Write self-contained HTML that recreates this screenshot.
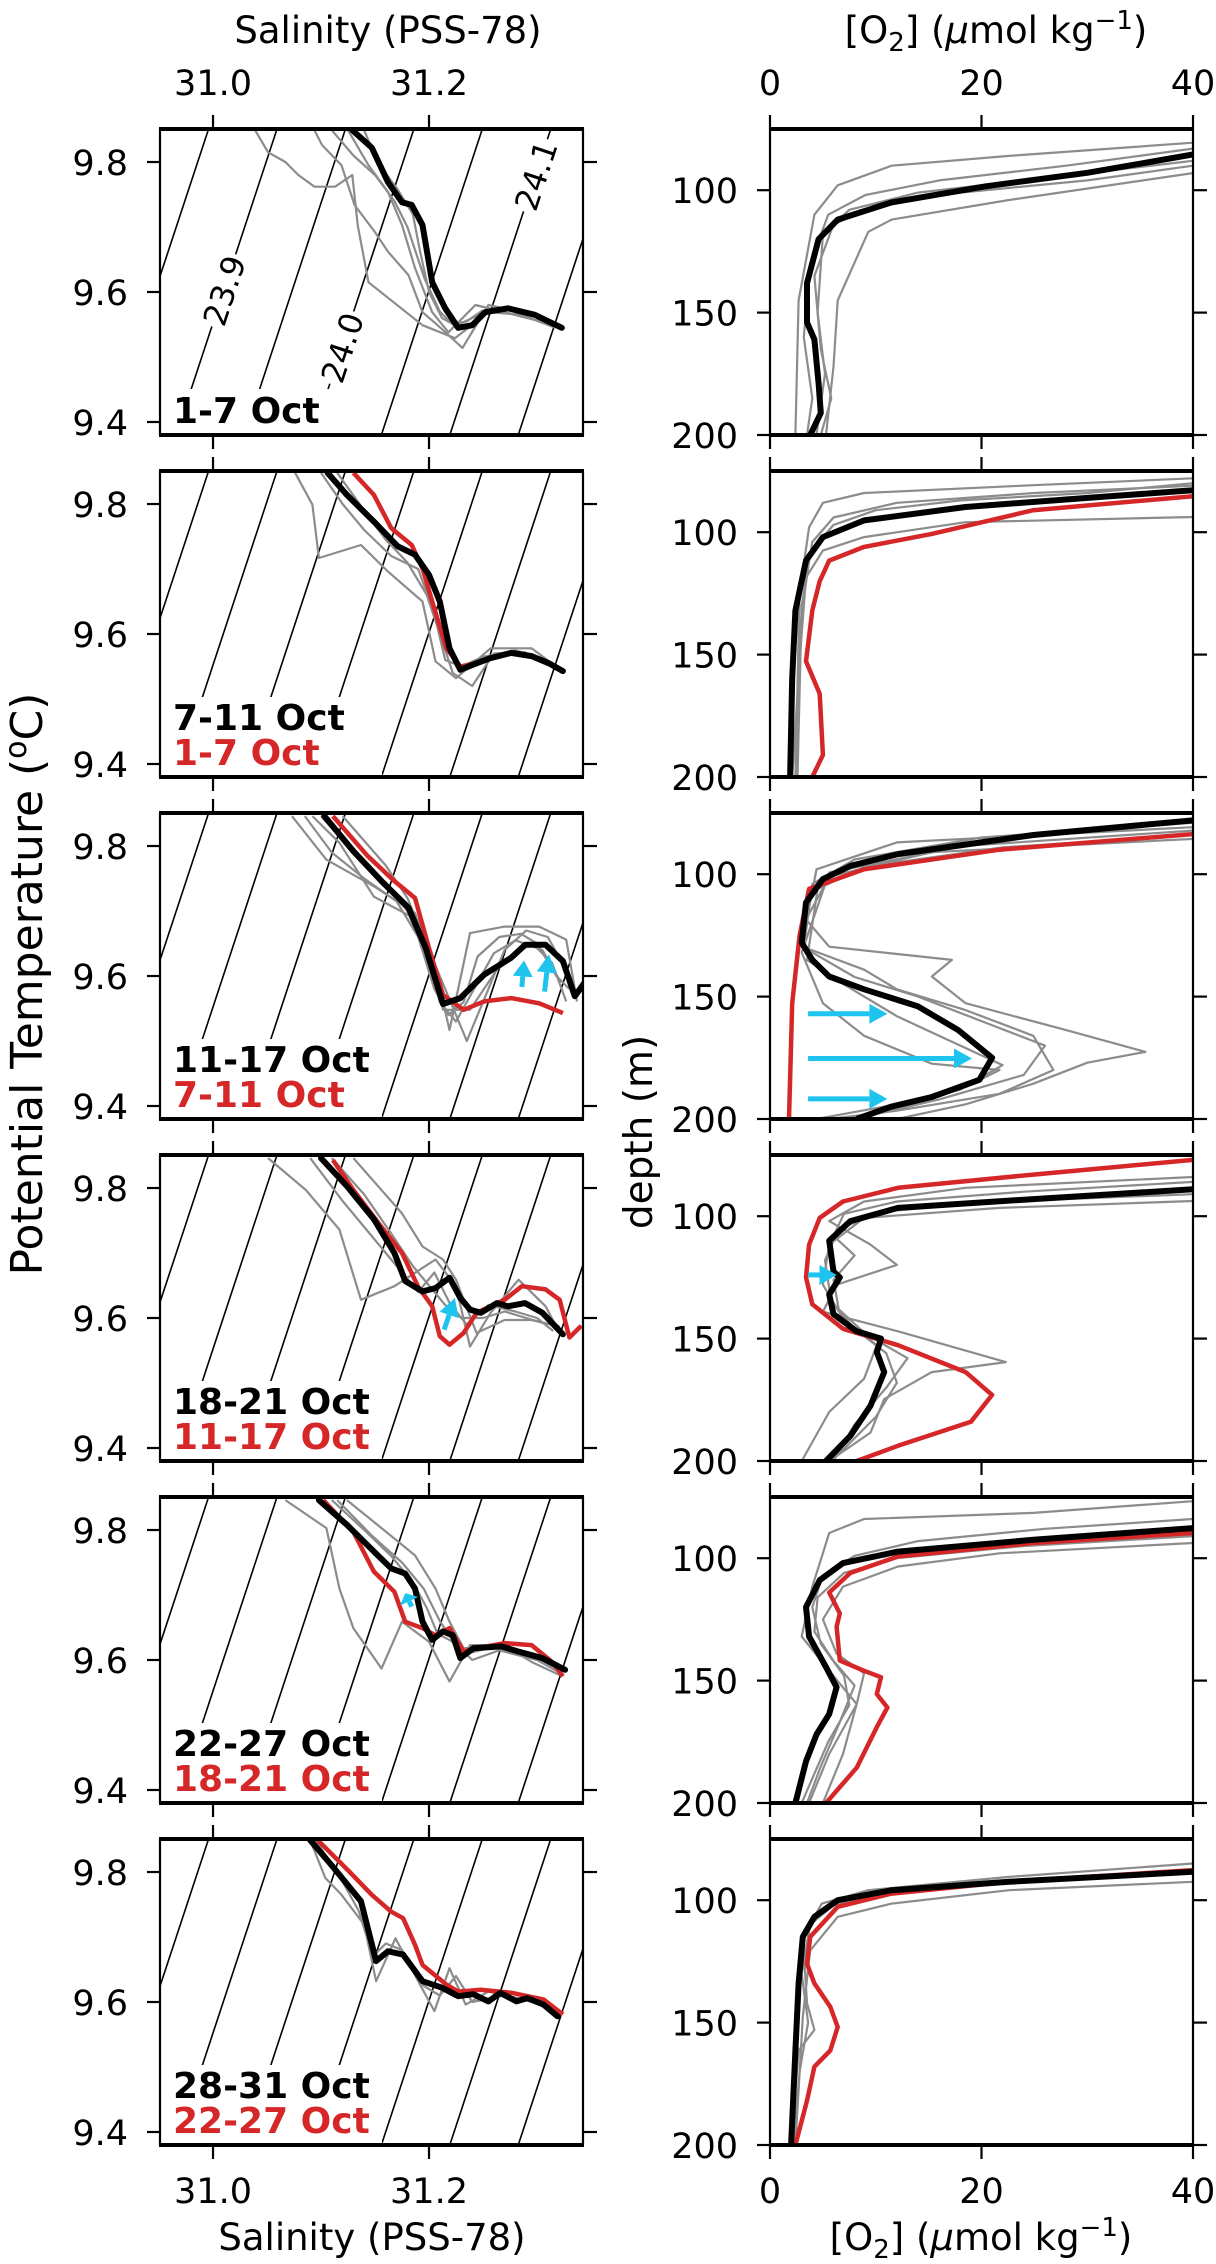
<!DOCTYPE html>
<html><head><meta charset="utf-8">
<style>
html,body{margin:0;padding:0;background:#fff;}
svg{display:block;font-family:"DejaVu Sans","Liberation Sans",sans-serif;}
</style></head>
<body>
<svg id="fig" width="1216" height="2264" viewBox="0 0 1216 2264" xmlns="http://www.w3.org/2000/svg">
<text x="388" y="43" font-size="37" text-anchor="middle">Salinity (PSS-78)</text>
<text x="996" y="43" font-size="37" text-anchor="middle">[O<tspan font-size="26" dy="8">2</tspan><tspan dy="-8">] (</tspan><tspan font-style="italic">μ</tspan>mol kg<tspan font-size="26" dy="-14">−1</tspan><tspan dy="14">)</tspan></text>
<text x="372" y="2250" font-size="37" text-anchor="middle">Salinity (PSS-78)</text>
<text x="981" y="2250" font-size="37" text-anchor="middle">[O<tspan font-size="26" dy="8">2</tspan><tspan dy="-8">] (</tspan><tspan font-style="italic">μ</tspan>mol kg<tspan font-size="26" dy="-14">−1</tspan><tspan dy="14">)</tspan></text>
<text transform="translate(42,984) rotate(-90)" font-size="44" text-anchor="middle">Potential Temperature (<tspan font-size="30" dy="-16">o</tspan><tspan dy="16">C)</tspan></text>
<text transform="translate(652,1132) rotate(-90)" font-size="39" text-anchor="middle">depth (m)</text>
<g id="plots"></g>
</svg>
<script>
// ---------------- DATA ----------------
const panelLabels = ["1-7 Oct","7-11 Oct","11-17 Oct","18-21 Oct","22-27 Oct","28-31 Oct"];
const prevLabels = [null,"1-7 Oct","7-11 Oct","11-17 Oct","18-21 Oct","22-27 Oct"];
const salTicks = [31.0, 31.2];
const salTickLabels = ["31.0","31.2"];
const tempTicks = [9.8, 9.6, 9.4];
const tempTickLabels = ["9.8","9.6","9.4"];
const o2Ticks = [0, 20, 40];
const o2TickLabels = ["0","20","40"];
const depthTicks = [100, 150, 200];
const depthTickLabels = ["100","150","200"];
const sigmaLevels = [23.7,23.75,23.8,23.85,23.9,23.95,24.0,24.05,24.1,24.15,24.2,24.25,24.3];
const sigmaLabelLevels = [23.9, 24.0, 24.1];
const sigmaLabelTemps = [9.6025, 9.5145, 9.7795];

// TS black (mean) per panel
const ts_black_1 = [[31.129,9.849],[31.147,9.822],[31.162,9.769],[31.175,9.738],[31.184,9.734],[31.194,9.703],[31.203,9.615],[31.215,9.575],[31.227,9.545],[31.24,9.549],[31.252,9.569],[31.273,9.575],[31.298,9.565],[31.323,9.545]];
const ts_black_2 = [[31.106,9.848],[31.124,9.814],[31.149,9.773],[31.171,9.735],[31.187,9.722],[31.2,9.691],[31.21,9.65],[31.219,9.578],[31.229,9.545],[31.244,9.555],[31.257,9.563],[31.276,9.571],[31.295,9.566],[31.311,9.555],[31.324,9.543]];
const ts_black_3 = [[31.103,9.846],[31.13,9.792],[31.156,9.746],[31.181,9.705],[31.197,9.643],[31.213,9.557],[31.229,9.566],[31.251,9.602],[31.276,9.628],[31.289,9.648],[31.308,9.648],[31.324,9.623],[31.335,9.569],[31.345,9.592]];
const ts_black_4 = [[31.1,9.846],[31.124,9.803],[31.149,9.752],[31.168,9.7],[31.178,9.657],[31.194,9.641],[31.206,9.646],[31.219,9.662],[31.229,9.631],[31.238,9.613],[31.248,9.608],[31.263,9.623],[31.273,9.618],[31.289,9.623],[31.305,9.608],[31.324,9.575]];
const ts_black_5 = [[31.098,9.846],[31.124,9.808],[31.149,9.767],[31.165,9.741],[31.178,9.733],[31.187,9.71],[31.194,9.659],[31.203,9.631],[31.213,9.644],[31.222,9.638],[31.229,9.603],[31.241,9.618],[31.267,9.621],[31.283,9.613],[31.305,9.603],[31.326,9.585]];
const ts_black_6 = [[31.09,9.849],[31.112,9.806],[31.137,9.755],[31.151,9.663],[31.162,9.678],[31.176,9.673],[31.194,9.632],[31.212,9.622],[31.227,9.609],[31.241,9.612],[31.255,9.601],[31.266,9.614],[31.281,9.601],[31.291,9.606],[31.306,9.596],[31.319,9.578]];
// TS red (previous period)
const ts_red_2 = [[31.13,9.848],[31.149,9.814],[31.165,9.763],[31.184,9.737],[31.194,9.701],[31.203,9.65],[31.216,9.578],[31.229,9.55],[31.244,9.555],[31.257,9.563],[31.276,9.571],[31.295,9.566],[31.311,9.555],[31.324,9.543]];
const ts_red_3 = [[31.111,9.846],[31.143,9.785],[31.168,9.746],[31.187,9.72],[31.2,9.643],[31.213,9.571],[31.232,9.548],[31.251,9.561],[31.276,9.566],[31.302,9.558],[31.324,9.543]];
const ts_red_4 = [[31.111,9.843],[31.13,9.797],[31.156,9.74],[31.175,9.7],[31.19,9.648],[31.203,9.618],[31.21,9.572],[31.219,9.559],[31.232,9.577],[31.244,9.608],[31.27,9.628],[31.286,9.649],[31.308,9.644],[31.321,9.628],[31.33,9.57],[31.341,9.588]];
const ts_red_5 = [[31.102,9.846],[31.13,9.797],[31.149,9.736],[31.168,9.705],[31.178,9.659],[31.194,9.649],[31.206,9.638],[31.219,9.649],[31.232,9.613],[31.244,9.618],[31.27,9.626],[31.295,9.623],[31.314,9.597],[31.324,9.575]];
const ts_red_6 = [[31.097,9.849],[31.126,9.801],[31.147,9.765],[31.165,9.739],[31.176,9.729],[31.187,9.688],[31.194,9.657],[31.216,9.627],[31.227,9.616],[31.248,9.619],[31.277,9.614],[31.306,9.604],[31.324,9.581]];
// TS gray (individual profiles)
const ts_gray_1a = [[31.039,9.849],[31.051,9.815],[31.067,9.8],[31.079,9.78],[31.094,9.762],[31.113,9.762],[31.129,9.78],[31.134,9.703],[31.144,9.615],[31.194,9.549],[31.224,9.529],[31.255,9.569],[31.286,9.565],[31.317,9.545]];
const ts_gray_1b = [[31.125,9.849],[31.144,9.795],[31.162,9.754],[31.175,9.703],[31.187,9.637],[31.203,9.569],[31.218,9.538],[31.243,9.58],[31.27,9.569],[31.305,9.554]];
const ts_gray_1c = [[31.094,9.849],[31.101,9.826],[31.119,9.795],[31.131,9.734],[31.15,9.692],[31.162,9.662],[31.181,9.626],[31.194,9.569],[31.208,9.549],[31.231,9.514],[31.255,9.58],[31.286,9.569]];
const ts_gray_1d = [[31.14,9.849],[31.152,9.8],[31.17,9.76],[31.185,9.72],[31.192,9.66],[31.2,9.6],[31.212,9.56],[31.225,9.548],[31.24,9.56],[31.26,9.575],[31.29,9.57],[31.31,9.55]];
const ts_gray_1e = [[31.11,9.849],[31.13,9.81],[31.15,9.78],[31.168,9.74],[31.18,9.7],[31.196,9.62],[31.21,9.57],[31.222,9.55],[31.235,9.555],[31.25,9.572]];
const ts_gray_2a = [[31.076,9.848],[31.092,9.799],[31.098,9.717],[31.137,9.737],[31.162,9.696],[31.194,9.65],[31.206,9.558],[31.225,9.532],[31.257,9.578],[31.295,9.578],[31.32,9.547]];
const ts_gray_2b = [[31.115,9.848],[31.14,9.79],[31.16,9.745],[31.18,9.71],[31.198,9.66],[31.212,9.59],[31.222,9.54],[31.24,9.52],[31.26,9.57],[31.29,9.572]];
const ts_gray_2c = [[31.1,9.848],[31.12,9.8],[31.14,9.76],[31.165,9.72],[31.19,9.7],[31.205,9.63],[31.215,9.56],[31.23,9.55],[31.25,9.565],[31.28,9.575],[31.31,9.56]];
const ts_gray_3a = [[31.073,9.846],[31.105,9.779],[31.149,9.738],[31.187,9.697],[31.206,9.61],[31.219,9.517],[31.238,9.666],[31.27,9.676],[31.302,9.676],[31.327,9.656],[31.337,9.561]];
const ts_gray_3b = [[31.092,9.846],[31.117,9.805],[31.149,9.722],[31.194,9.682],[31.213,9.548],[31.238,9.548],[31.263,9.61],[31.295,9.651],[31.314,9.62],[31.327,9.561]];
const ts_gray_3c = [[31.12,9.846],[31.16,9.77],[31.18,9.72],[31.205,9.62],[31.22,9.56],[31.235,9.5],[31.25,9.56],[31.27,9.64],[31.29,9.67],[31.31,9.66],[31.33,9.6]];
const ts_gray_3d = [[31.085,9.846],[31.11,9.79],[31.14,9.75],[31.17,9.715],[31.19,9.66],[31.205,9.58],[31.218,9.54],[31.232,9.56],[31.245,9.63],[31.265,9.66],[31.285,9.665],[31.3,9.65],[31.318,9.6],[31.33,9.58]];
const ts_gray_3e = [[31.1,9.846],[31.125,9.8],[31.155,9.75],[31.18,9.7],[31.2,9.62],[31.21,9.56],[31.225,9.53],[31.245,9.59],[31.26,9.635],[31.28,9.655],[31.305,9.64],[31.322,9.59]];
const ts_gray_4a = [[31.051,9.846],[31.086,9.797],[31.117,9.736],[31.137,9.628],[31.168,9.649],[31.206,9.69],[31.225,9.649],[31.238,9.556],[31.257,9.608],[31.283,9.659],[31.308,9.618],[31.321,9.577]];
const ts_gray_4b = [[31.13,9.846],[31.175,9.761],[31.194,9.71],[31.213,9.69],[31.225,9.659],[31.244,9.577],[31.27,9.597],[31.295,9.597],[31.321,9.587]];
const ts_gray_4c = [[31.11,9.846],[31.14,9.79],[31.165,9.73],[31.185,9.68],[31.2,9.65],[31.215,9.62],[31.23,9.6],[31.25,9.6],[31.27,9.61],[31.29,9.6],[31.31,9.59]];
const ts_gray_4d = [[31.09,9.846],[31.12,9.78],[31.15,9.72],[31.17,9.68],[31.19,9.64],[31.205,9.67],[31.22,9.62],[31.235,9.59],[31.255,9.62],[31.28,9.61],[31.3,9.6],[31.315,9.58]];
const ts_gray_5a = [[31.067,9.846],[31.105,9.803],[31.117,9.71],[31.13,9.649],[31.156,9.587],[31.175,9.659],[31.2,9.628],[31.219,9.567],[31.238,9.623],[31.27,9.623],[31.295,9.597],[31.321,9.577]];
const ts_gray_5b = [[31.124,9.846],[31.156,9.803],[31.187,9.761],[31.206,9.71],[31.219,9.659],[31.232,9.618],[31.257,9.623],[31.289,9.608],[31.321,9.587]];
const ts_gray_5c = [[31.11,9.846],[31.14,9.8],[31.165,9.76],[31.185,9.72],[31.198,9.68],[31.208,9.64],[31.22,9.63],[31.235,9.61],[31.26,9.62],[31.29,9.61],[31.315,9.59]];
const ts_gray_5d = [[31.115,9.846],[31.148,9.79],[31.175,9.75],[31.195,9.71],[31.21,9.66],[31.222,9.63],[31.24,9.6],[31.265,9.615],[31.3,9.6],[31.322,9.58]];
const ts_gray_6a = [[31.09,9.849],[31.104,9.791],[31.119,9.765],[31.14,9.719],[31.151,9.632],[31.169,9.698],[31.19,9.632],[31.205,9.586],[31.219,9.652],[31.234,9.596],[31.255,9.616],[31.306,9.596],[31.319,9.575]];
const ts_gray_6b = [[31.095,9.849],[31.115,9.8],[31.135,9.74],[31.148,9.67],[31.16,9.69],[31.175,9.68],[31.195,9.625],[31.21,9.61],[31.225,9.64],[31.24,9.6],[31.27,9.61],[31.3,9.6],[31.318,9.58]];

// O2 black (mean) per panel: [O2, depth]
const o2_black_1 = [[40,85.4],[30,92.9],[20.4,98.4],[11.5,105],[6.4,112],[4.6,120],[3.5,138],[3.5,154],[4.2,161],[4.6,179],[4.8,191],[3.8,200]];
const o2_black_2 = [[40,82.9],[31.3,85.6],[18.5,89.7],[8.9,95.2],[5,102],[3.4,111.6],[2.4,132],[2.1,159.6],[1.9,200]];
const o2_black_3 = [[40,78],[24.9,84],[12.1,91.8],[7.6,96.6],[5,102],[3.4,111.6],[3,128],[4,135],[5.6,141.8],[8.9,147],[14,154],[17.8,163.7],[21,175],[19.8,184],[15.3,191],[11.4,195],[8.2,200]];
const o2_black_4 = [[40,89],[24.9,93],[12.1,96.6],[7.6,102],[5.6,110],[6,122.6],[6.6,125],[5.6,132],[6,140],[8.2,147],[10.5,150],[10.1,155.5],[10.8,163.7],[9.5,177.4],[7.6,189.7],[5.3,200]];
const o2_black_5 = [[40,87.7],[24.9,92.5],[12.1,97.3],[6.9,102],[4.7,109],[3.4,120],[3.7,132],[5.3,144.5],[6.3,152.7],[5.6,163.7],[4.4,172],[3.4,183],[2.4,200]];
const o2_black_6 = [[40,88.4],[22.6,92.5],[11.5,95.9],[6.4,100],[4.2,106.8],[3.1,115],[2.7,134],[2.4,161.4],[2,200]];
// O2 red
const o2_red_2 = [[40,85.3],[24.9,91],[15.3,100.7],[8.9,106],[5.6,111.6],[4.7,120],[4,132],[3.4,152.7],[4.7,166],[5,191],[4,200]];
const o2_red_3 = [[40,83.6],[21.7,90],[8.9,98],[3.7,106],[2.8,125],[2.1,152.7],[1.8,200]];
const o2_red_4 = [[40,77],[24.9,83],[12.1,88.4],[6.9,94],[4.7,100.7],[3.7,111.6],[3.4,125],[4,136],[6.9,146],[12.1,152.7],[18.5,163.7],[21,173],[19,184],[12.1,193.8],[8.2,200]];
const o2_red_5 = [[40,89.7],[24.9,93.8],[12.1,99.3],[7.6,106],[5.6,114],[6.6,122.6],[6.3,128],[6.6,141.8],[8.9,146],[10.5,148.6],[10.1,155.5],[11.1,161],[10.1,169],[8.2,185.6],[5.3,200]];
const o2_red_6 = [[40,87.7],[22.6,92.5],[11.5,97.3],[6.4,102.7],[3.8,115],[3.5,126],[4.2,134],[5.7,143.6],[6.4,151.8],[5.7,161.4],[4.2,168],[3.5,181.9],[2.4,200]];
// O2 gray
const o2_gray_1a = [[40,80.6],[22.6,86],[11.5,90],[6.4,98],[4.2,110],[2.7,145],[2.4,200]];
const o2_gray_1b = [[40,93],[22.6,104],[11.5,112],[9.3,117],[6.4,145],[6,172],[5.3,200]];
const o2_gray_1c = [[40,88],[26,95],[14,101],[7.5,108],[5,118],[4.5,150],[5.2,175],[4.4,200]];
const o2_gray_1d = [[40,83],[28,90],[16,96],[9,102],[5.5,110],[3.8,130],[3.2,160],[4,185],[3.5,200]];
const o2_gray_1e = [[40,90],[30,96],[18,101],[10,106],[6,114],[4.2,135],[4.8,165],[5.8,185],[4.8,200]];
const o2_gray_2a = [[40,78],[24.9,80.8],[8.9,84],[5,88],[3.7,98],[2.8,125],[2.4,200]];
const o2_gray_2b = [[40,93.8],[18.5,95.9],[8.9,102],[5,107.5],[3.4,118.5],[2.8,152.7],[2.1,200]];
const o2_gray_2c = [[40,81],[25,84],[12,88],[6,94],[4,104],[3,130],[2.6,200]];
const o2_gray_2d = [[40,80],[30,84],[18,87],[10,91],[6,97],[3.8,108],[2.8,140],[2.4,200]];
const o2_gray_3a = [[40,85.6],[15.3,91],[5.6,101],[3.4,118.5],[5.6,129.6],[17.2,135],[15.3,141.8],[18.5,152.7],[28,163.7],[35.5,172.6],[30,177],[24.9,185.6],[18.5,194],[12,200]];
const o2_gray_3b = [[40,80.8],[12,87],[4.4,98],[3,129.5],[8.9,139],[12,147],[18.5,155.5],[24.9,166],[26.8,180],[21.7,189.7],[12,196.6],[5.6,200]];
const o2_gray_3c = [[40,82.2],[18.5,88.4],[5.6,99.3],[3,132],[5,152.7],[8.9,166],[15.3,177.4],[21.7,180],[18.5,187],[12,194],[4.4,200]];
const o2_gray_3d = [[40,79],[20,85],[8,94],[4,104],[3.2,130],[8,142],[14,150],[20,160],[26,170],[24,182],[16,192],[8,200]];
const o2_gray_3e = [[40,84],[22,89],[9,97],[4.5,106],[3.5,135],[7,145],[12,158],[17,168],[22,178],[18,188],[10,197],[7,200]];
const o2_gray_4a = [[40,84],[18.5,88.4],[8.9,94],[5.6,102],[9.5,111.6],[12,119.9],[6.3,128],[5,139],[12.1,147],[22.3,159.6],[15.3,163.7],[10.8,174.7],[9.5,188.4],[5.6,200]];
const o2_gray_4b = [[40,93.8],[21.7,96.6],[8.9,100.7],[5.6,111.6],[5,128],[6.9,141.8],[10.1,152.7],[8.9,166.4],[5.6,180],[3,200]];
const o2_gray_4c = [[40,86],[24,90],[12,94],[7,99],[6,108],[8,116],[6,126],[6.5,138],[9,148],[13,158],[11,170],[8,185],[6,200]];
const o2_gray_4d = [[40,91],[22,94],[11,98],[6.5,105],[5.2,118],[5.8,135],[8,146],[11,156],[12,168],[10,182],[7,195],[5,200]];
const o2_gray_5a = [[40,76.7],[24.9,81.5],[8.9,84],[5.6,89.7],[5,98],[4,111.6],[3,132],[5.6,146],[8.2,159.6],[5.6,180],[3.7,200]];
const o2_gray_5b = [[40,93.8],[21.7,98],[12.1,103.4],[6.9,111.6],[5,125],[6.3,139],[8.9,147],[8.2,159.6],[6.9,180],[5,200]];
const o2_gray_5c = [[40,84],[26,88],[14,93],[8,99],[5,107],[4,120],[4.8,135],[7,148],[7.5,160],[5.5,175],[4,190],[3,200]];
const o2_gray_5d = [[40,91],[24,95],[12,100],[7,106],[4.5,116],[4.2,130],[6,142],[8,152],[6.5,168],[4.8,185],[3.5,200]];
const o2_gray_6a = [[40,85],[22.6,90.5],[9.3,95.9],[4.9,101.4],[3.1,115],[3.5,142],[4.2,153],[2.7,161.4],[2,200]];
const o2_gray_6b = [[40,92.5],[22.6,95.9],[11.5,101.4],[6.4,106.8],[3.8,120.5],[3.1,147.7],[2.4,200]];
const o2_gray_6c = [[40,89],[22,93],[11,97],[6,102],[3.8,110],[3,130],[3.6,150],[2.8,170],[2.2,200]];

// cyan arrows: [x0,y0,x1,y1] in data units
const tsArrows_3 = [[31.286,9.583,31.288,9.624],[31.307,9.576,31.311,9.633]];
const tsArrows_4 = [[31.214,9.582,31.224,9.631]];
const tsArrows_5 = [[31.184,9.682,31.178,9.703]];
const o2Arrows_3 = [[3.6,157,11.1,157],[3.6,175.3,19.1,175.3],[3.6,191.8,11.1,191.8]];
const o2Arrows_4 = [[3.6,124,6.3,124]];

const tsBlack=[ts_black_1,ts_black_2,ts_black_3,ts_black_4,ts_black_5,ts_black_6];
const tsRed=[null,ts_red_2,ts_red_3,ts_red_4,ts_red_5,ts_red_6];
const tsGray=[[ts_gray_1a,ts_gray_1b,ts_gray_1c,ts_gray_1d,ts_gray_1e],[ts_gray_2a,ts_gray_2b,ts_gray_2c],[ts_gray_3a,ts_gray_3b,ts_gray_3c,ts_gray_3d,ts_gray_3e],[ts_gray_4a,ts_gray_4b,ts_gray_4c,ts_gray_4d],[ts_gray_5a,ts_gray_5b,ts_gray_5c,ts_gray_5d],[ts_gray_6a,ts_gray_6b]];
const o2Black=[o2_black_1,o2_black_2,o2_black_3,o2_black_4,o2_black_5,o2_black_6];
const o2Red=[null,o2_red_2,o2_red_3,o2_red_4,o2_red_5,o2_red_6];
const o2Gray=[[o2_gray_1a,o2_gray_1b,o2_gray_1c,o2_gray_1d,o2_gray_1e],[o2_gray_2a,o2_gray_2b,o2_gray_2c,o2_gray_2d],[o2_gray_3a,o2_gray_3b,o2_gray_3c,o2_gray_3d,o2_gray_3e],[o2_gray_4a,o2_gray_4b,o2_gray_4c,o2_gray_4d],[o2_gray_5a,o2_gray_5b,o2_gray_5c,o2_gray_5d],[o2_gray_6a,o2_gray_6b,o2_gray_6c]];
const tsArrows=[[],[],tsArrows_3,tsArrows_4,tsArrows_5,[]];
const o2Arrows=[[],[],o2Arrows_3,o2Arrows_4,[],[]];

// ---------------- DRAW ----------------
const NS="http://www.w3.org/2000/svg";
const root=document.getElementById('plots');
const LX0=160,LX1=583,RX0=770,RX1=1193,PH=306,TOP0=129,STEP=342;
const S_MIN=30.9509,S_MAX=31.3426,T_MAX=9.8508,T_MIN=9.38,O_MIN=0,O_MAX=40,D_MIN=75,D_MAX=200;
function xS(s){return LX0+(s-S_MIN)/(S_MAX-S_MIN)*(LX1-LX0);}
function yT(t,top){return top+(T_MAX-t)/(T_MAX-T_MIN)*PH;}
function xO(o){return RX0+(o-O_MIN)/(O_MAX-O_MIN)*(RX1-RX0);}
function yD(d,top){return top+(d-D_MIN)/(D_MAX-D_MIN)*PH;}
function mk(tag,attrs,parent){const e=document.createElementNS(NS,tag);for(const k in attrs)e.setAttribute(k,attrs[k]);(parent||root).appendChild(e);return e;}
function sigmaS(sig,t){return 31.0593+(sig-23.9+0.1567*(t-9.851))/0.789;}

for(let p=0;p<6;p++){
  const top=TOP0+p*STEP, bot=top+PH;
  const g=mk('g',{});
  
  
  const defs=mk('defs',{},g);
  const cl=mk('clipPath',{id:'cl'+p},defs);
  mk('rect',{x:LX0,y:top,width:LX1-LX0,height:PH},cl);
  const cr=mk('clipPath',{id:'cr'+p},defs);
  mk('rect',{x:RX0,y:top,width:RX1-RX0,height:PH},cr);

  const lg=mk('g',{'clip-path':'url(#cl'+p+')'},g);
  
  
  sigmaLevels.forEach(sig=>{
    const l=mk('line',{x1:xS(sigmaS(sig,T_MAX)),y1:yT(T_MAX,top),x2:xS(sigmaS(sig,T_MIN)),y2:yT(T_MIN,top),stroke:'#000','stroke-width':1.6},lg);
    
    
  });
  if(p===0){
    sigmaLabelLevels.forEach((sig,i)=>{
      const t=sigmaLabelTemps[i];
      const cx=xS(sigmaS(sig,t)), cy=yT(t,top);
      const ang=-71.7;
      const gg=mk('g',{transform:'translate('+cx+','+cy+') rotate('+ang+')'},lg);
      mk('rect',{x:-38,y:-17,width:76,height:34,fill:'#fff'},gg);
      const tx=mk('text',{x:0,y:12,'font-size':32,'text-anchor':'middle'},gg);
      tx.textContent=sig.toFixed(1);
      
      
    });
  }
  function pathTS(arr){return arr.map((q,i)=>(i?'L':'M')+xS(q[0]).toFixed(1)+' '+yT(q[1],top).toFixed(1)).join(' ');}
  function pathO2(arr){return arr.map((q,i)=>(i?'L':'M')+xO(q[0]).toFixed(1)+' '+yD(q[1],top).toFixed(1)).join(' ');}
  tsGray[p].forEach((arr,i)=>{
    const e=mk('path',{d:pathTS(arr),fill:'none',stroke:'#8c8c8c','stroke-width':2.2,'stroke-linejoin':'round'},lg);
    
    
  });
  if(tsRed[p]){
    const e=mk('path',{d:pathTS(tsRed[p]),fill:'none',stroke:'#d62728','stroke-width':4.5,'stroke-linejoin':'round'},lg);
    
    
  }
  {
    const e=mk('path',{d:pathTS(tsBlack[p]),fill:'none',stroke:'#000','stroke-width':6,'stroke-linejoin':'round','stroke-linecap':'round'},lg);
    
    
  }
  function arrow(parent,x0,y0,x1,y1){
    const dx=x1-x0,dy=y1-y0,L=Math.hypot(dx,dy),ux=dx/L,uy=dy/L,h=Math.min(18,L*0.6),w=10;
    const bx=x1-ux*h,by=y1-uy*h;
    mk('line',{x1:x0,y1:y0,x2:bx,y2:by,stroke:'#1ec4ee','stroke-width':5},parent);
    const a=mk('polygon',{points:x1+','+y1+' '+(bx-uy*w)+','+(by+ux*w)+' '+(bx+uy*w)+','+(by-ux*w),fill:'#1ec4ee'},parent);
    return a;
  }
  tsArrows[p].forEach((a,i)=>{
    const ag=mk('g',{},lg);
    
    
    arrow(ag,xS(a[0]),yT(a[1],top),xS(a[2]),yT(a[3],top));
  });
  const twoLine=!!prevLabels[p];
  const boxTop= twoLine? bot-80 : bot-46;
  mk('rect',{x:LX0+2,y:boxTop,width:twoLine?220:170,height:bot-boxTop,fill:'#fff'},lg);
  const lab=mk('text',{x:173,y:twoLine?bot-47:bot-12,'font-size':36,'font-weight':'bold',fill:'#000'},g);
  lab.textContent=panelLabels[p];
  
  
  if(twoLine){
    const lab2=mk('text',{x:173,y:bot-12,'font-size':36,'font-weight':'bold',fill:'#d62728'},g);
    lab2.textContent=prevLabels[p];
    
    
  }

  const rg=mk('g',{'clip-path':'url(#cr'+p+')'},g);
  
  
  o2Gray[p].forEach((arr,i)=>{
    const e=mk('path',{d:pathO2(arr),fill:'none',stroke:'#8c8c8c','stroke-width':2.2,'stroke-linejoin':'round'},rg);
    
    
  });
  if(o2Red[p]){
    const e=mk('path',{d:pathO2(o2Red[p]),fill:'none',stroke:'#d62728','stroke-width':4.5,'stroke-linejoin':'round'},rg);
    
    
  }
  {
    const e=mk('path',{d:pathO2(o2Black[p]),fill:'none',stroke:'#000','stroke-width':6,'stroke-linejoin':'round'},rg);
    
    
  }
  o2Arrows[p].forEach((a,i)=>{
    const ag=mk('g',{},rg);
    
    
    arrow(ag,xO(a[0]),yD(a[1],top),xO(a[2]),yD(a[3],top));
  });

  [[LX0,LX1],[RX0,RX1]].forEach(([a,b],side)=>{
    const fg=mk('g',{stroke:'#000'},g);
    
    
    mk('line',{x1:a,y1:top,x2:a,y2:bot,'stroke-width':2.2},fg);
    mk('line',{x1:b,y1:top,x2:b,y2:bot,'stroke-width':2.2},fg);
    mk('line',{x1:a-1,y1:top,x2:b+1,y2:top,'stroke-width':4},fg);
    mk('line',{x1:a-1,y1:bot,x2:b+1,y2:bot,'stroke-width':4},fg);
  });
  const tg=mk('g',{stroke:'#000','stroke-width':2.2},g);
  
  
  salTicks.forEach(s=>{const x=xS(s);mk('line',{x1:x,y1:top,x2:x,y2:top-14},tg);mk('line',{x1:x,y1:bot,x2:x,y2:bot+14},tg);});
  o2Ticks.forEach(o=>{const x=xO(o);mk('line',{x1:x,y1:top,x2:x,y2:top-14},tg);mk('line',{x1:x,y1:bot,x2:x,y2:bot+14},tg);});
  tempTicks.forEach(t=>{const y=yT(t,top);mk('line',{x1:LX0,y1:y,x2:LX0-13,y2:y},tg);mk('line',{x1:LX1,y1:y,x2:LX1+14,y2:y},tg);});
  depthTicks.forEach(d=>{const y=yD(d,top);mk('line',{x1:RX0,y1:y,x2:RX0-13,y2:y},tg);mk('line',{x1:RX1,y1:y,x2:RX1+14,y2:y},tg);});
  tempTicks.forEach((t,i)=>{
    const e=mk('text',{x:128,y:yT(t,top)+13,'font-size':35,'text-anchor':'end'},g);
    e.textContent=tempTickLabels[i];
    
    
  });
  depthTicks.forEach((d,i)=>{
    const e=mk('text',{x:738,y:yD(d,top)+13,'font-size':35,'text-anchor':'end'},g);
    e.textContent=depthTickLabels[i];
    
    
  });
  if(p===0||p===5){
    const ty=p===0?95:2203;
    salTicks.forEach((s,i)=>{
      const e=mk('text',{x:xS(s),y:ty,'font-size':35,'text-anchor':'middle'},g);
      e.textContent=salTickLabels[i];
      
      
    });
    o2Ticks.forEach((o,i)=>{
      const e=mk('text',{x:xO(o),y:ty,'font-size':35,'text-anchor':'middle'},g);
      e.textContent=o2TickLabels[i];
      
      
    });
  }
}
</script>
</body></html>
